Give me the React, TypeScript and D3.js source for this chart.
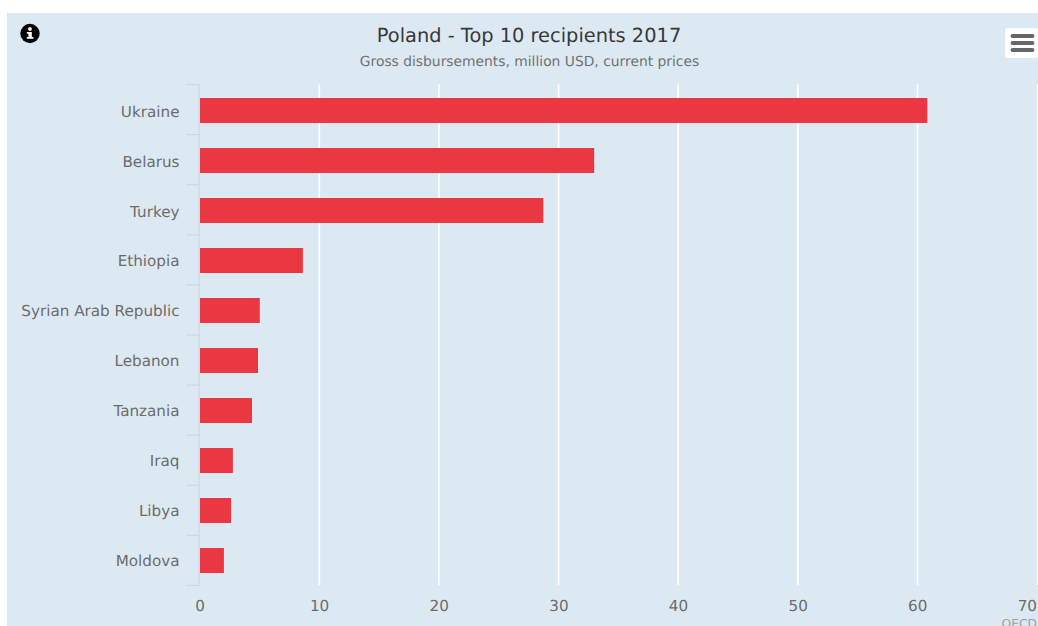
import React from "react";
import * as d3 from "d3";

const recipients = ["Ukraine", "Belarus", "Turkey", "Ethiopia", "Syrian Arab Republic", "Lebanon", "Tanzania", "Iraq", "Libya", "Moldova"];
const disbursements = [60.8, 32.95, 28.7, 8.6, 5, 4.85, 4.35, 2.75, 2.6, 2];
const xTicks = [0, 10, 20, 30, 40, 50, 60, 70];

const WIDTH = 1038;
const HEIGHT = 626;
const FONT = "'DejaVu Sans', sans-serif";

const x = d3.scaleLinear().domain([0, 70]).range([200, 1037.4]);
const y = d3.scaleBand<string>().domain(recipients).range([85.5, 585.5]).paddingInner(0.5).paddingOuter(0.25);
const labelY = d3.scalePoint<string>().domain(recipients).range([116.8, 565.6]);
const tickStep = (585.5 - 84.5) / recipients.length;
const bandEdges = d3.range(recipients.length + 1).map((i) => 84.5 + i * tickStep);

export default function App() {
  return (
    <svg width={WIDTH} height={HEIGHT} textRendering="geometricPrecision" style={{ position: "absolute", left: 0, top: 0, display: "block", fontFamily: FONT }}>
      <rect x={7} y={13} width={WIDTH - 7} height={HEIGHT - 13} fill="#dde9f2" />

      {xTicks.slice(1, -1).map((t) => (
        <line key={t} x1={x(t) - 0.3} x2={x(t) - 0.3} y1={84.5} y2={585} stroke="#ffffff" strokeWidth={1.6} />
      ))}
      <line x1={1037.4} x2={1037.4} y1={84.5} y2={585} stroke="#ffffff" strokeWidth={1.2} />

      <line x1={199} x2={199} y1={84.5} y2={585.5} stroke="#ccd6eb" strokeWidth={1.2} />
      {bandEdges.map((v) => (
        <line key={v} x1={186.5} x2={199.5} y1={v} y2={v} stroke="#ccd6eb" strokeWidth={1.2} />
      ))}

      {recipients.map((name, i) => (
        <rect key={name} x={x(0)} y={y(name)} width={x(disbursements[i]) - x(0)} height={y.bandwidth()} fill="#e93842" />
      ))}

      {recipients.map((name) => (
        <text key={name} x={179.5} y={labelY(name)} textAnchor="end" fontSize={15.2} fill="#6c6c6c">
          {name}
        </text>
      ))}

      {xTicks.map((t, i) => (
        <text key={t} x={i === xTicks.length - 1 ? 1037 : x(t)} y={611} textAnchor={i === xTicks.length - 1 ? "end" : "middle"} fontSize={15.2} fill="#6c6c6c">
          {t}
        </text>
      ))}

      <text x={529} y={42} textAnchor="middle" fontSize={19.4} fill="#383838">Poland - Top 10 recipients 2017</text>
      <text x={529.5} y={66} textAnchor="middle" fontSize={13.85} fill="#707070">Gross disbursements, million USD, current prices</text>
      <text x={1037} y={628} textAnchor="end" fontSize={12.3} fill="#a0a0a0">OECD</text>

      {/* info badge */}
      <circle cx={30} cy={33.5} r={9.7} fill="#000000" />
      <rect x={28.4} y={32} width={3.4} height={6} fill="#ffffff" />
      <rect x={26.8} y={37} width={6.6} height={1.8} fill="#ffffff" />
      <rect x={26.8} y={32} width={3} height={1.6} fill="#ffffff" />
      <circle cx={30} cy={29} r={1.9} fill="#ffffff" />

      {/* export menu button */}
      <rect x={1005} y={28} width={33} height={30} rx={2.5} fill="#ffffff" />
      {[36, 43, 50].map((v) => (
        <line key={v} x1={1012.5} x2={1032.5} y1={v} y2={v} stroke="#666666" strokeWidth={3.8} strokeLinecap="round" />
      ))}
    </svg>
  );
}
